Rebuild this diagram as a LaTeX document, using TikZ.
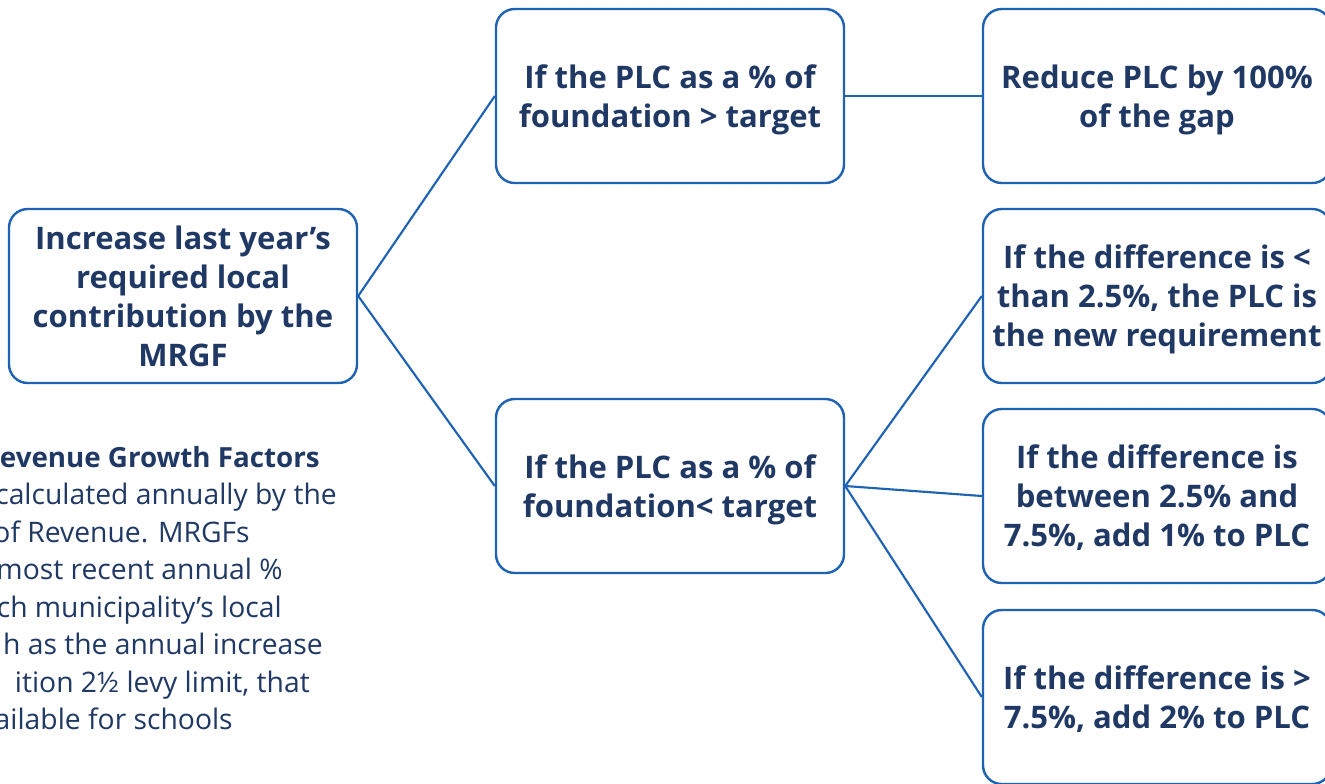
\documentclass[tikz,border=0pt]{standalone}
\usepackage{fontspec}
\setmainfont{Open Sans}
\definecolor{navy}{HTML}{1F3864}
\definecolor{edge}{HTML}{1E63B3}
\begin{document}
\begin{tikzpicture}[x=0.75pt, y=-0.75pt,
    box/.style={draw=edge, line width=1.8pt, rounded corners=14pt, minimum width=261pt,
        minimum height=130.5pt, align=center, text=navy, font=\bfseries\fontsize{23.3}{29.3}\selectfont,
        text depth=0pt},
    link/.style={draw=edge, line width=1.6pt},
    note/.style={anchor=base east, inner sep=0pt, text=navy, font=\fontsize{21.2}{28}\selectfont}]
\useasboundingbox (0,0) rectangle (1325,783);
\clip (0,0) rectangle (1325,783);
    \node[box] (root) at (183,296) {Increase last year’s\\required local\\contribution by the\\MRGF};
    \node[box] (mid1) at (670,96) {If the PLC as a \% of\\foundation > target};
    \node[box] (mid2) at (670,486) {If the PLC as a \% of\\foundation< target};
    \node[box] (r1) at (1157,96) {Reduce PLC by 100\%\\of the gap};
    \node[box] (r2) at (1157,296) {If the difference is <\\than 2.5\%, the PLC is\\the new requirement};
    \node[box] (r3) at (1157,496) {If the difference is\\between 2.5\% and\\7.5\%, add 1\% to PLC};
    \node[box] (r4) at (1157,697) {If the difference is >\\7.5\%, add 2\% to PLC};
    \foreach \from/\to in {root/mid1, root/mid2, mid1/r1, mid2/r2, mid2/r3, mid2/r4}
        \draw[link] (\from.east) -- (\to.west);
% side note, cut at the left edge
    \foreach \i/\xr/\yb/\txt in {1/320/467/{\bfseries\fontsize{20.8}{28}\selectfont Revenue Growth Factors},
        2/337/504.5/{calculated annually by the}, 3/250/542/{of Revenue. MRGFs},
        4/283/579.5/{most recent annual \%}, 5/282/617/{ch municipality’s local},
        6/323/654.5/{h as the annual increase}, 7/310/692/{ition 2½ levy limit, that},
        8/233/729.5/{ailable for schools}}
        \node[note] (note\i) at (\xr,\yb) {\txt};
\end{tikzpicture}
\end{document}
